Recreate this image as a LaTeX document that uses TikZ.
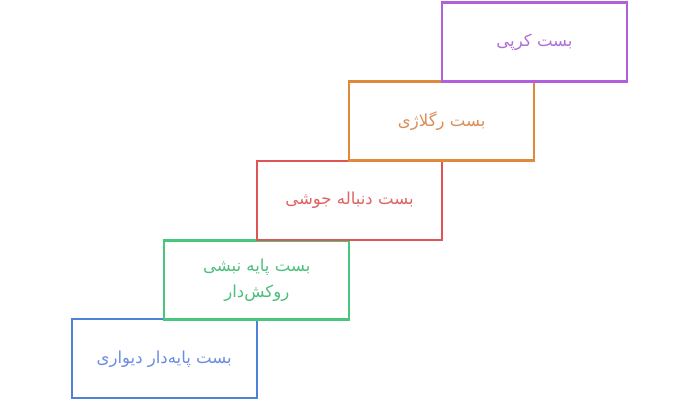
\documentclass[tikz,border=0pt]{standalone}
\usepackage{fontspec}
\newfontfamily\arabicfont[Script=Arabic]{DejaVu Sans}
\TeXXeTstate=1
\definecolor{cblue}{HTML}{4F81D9}
\definecolor{tblue}{HTML}{6A8CE0}
\definecolor{cgreen}{HTML}{47C67C}
\definecolor{tgreen}{HTML}{4DBE7C}
\definecolor{cred}{HTML}{E05454}
\definecolor{tred}{HTML}{E06262}
\definecolor{corange}{HTML}{E0893B}
\definecolor{torange}{HTML}{D98E58}
\definecolor{cpurple}{HTML}{B25FDB}
\definecolor{tpurple}{HTML}{B06ED8}
\tikzset{
  stepbox/.style={draw=#1, line width=1.6pt, minimum width=138.75pt, minimum height=59.25pt, inner sep=0pt, align=center, font=\arabicfont\fontsize{12.4}{19.5}\selectfont},
}
\begin{document}
\begin{tikzpicture}[x=0.75pt,y=-0.75pt]
\useasboundingbox (0,0) rectangle (700,400);
\node[stepbox=cblue, text=tblue] (b1) at (164.2,358.8) {\beginR بست پایه‌دار دیواری\endR};
\node[stepbox=cgreen, text=tgreen] (b2) at (256.8,280) {\beginR بست پایه نبشی\endR\\\beginR روکش‌دار\endR};
\node[stepbox=cred, text=tred] (b3) at (349.5,200.5) {\beginR بست دنباله جوشی\endR};
\node[stepbox=corange, text=torange] (b4) at (441.7,121) {\beginR بست رگلاژی\endR};
\node[stepbox=cpurple, text=tpurple] (b5) at (534.5,42) {\beginR بست کرپی\endR};
\end{tikzpicture}
\end{document}
